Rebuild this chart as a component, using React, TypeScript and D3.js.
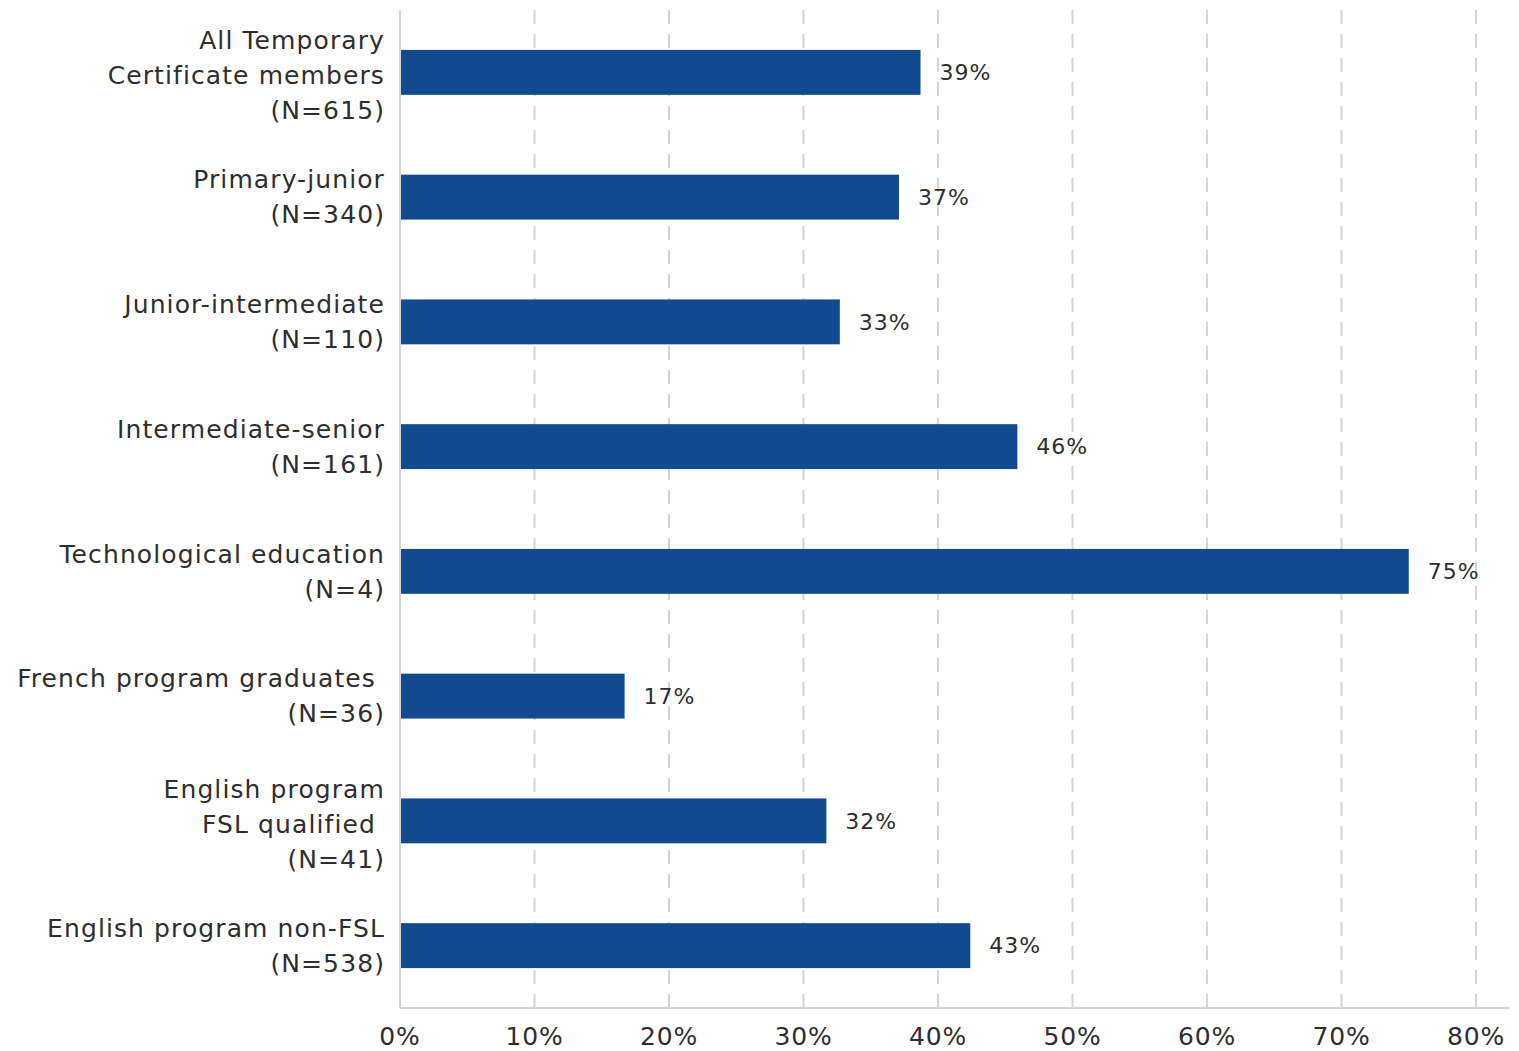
import React from "react";
import * as d3 from "d3";

const categories: string[][] = [
  ["All Temporary", "Certificate members", "(N=615)"],
  ["Primary-junior", "(N=340)"],
  ["Junior-intermediate", "(N=110)"],
  ["Intermediate-senior", "(N=161)"],
  ["Technological education", "(N=4)"],
  ["French program graduates ", "(N=36)"],
  ["English program", "FSL qualified ", "(N=41)"],
  ["English program non-FSL", "(N=538)"],
];
const values: number[] = [38.7, 37.1, 32.7, 45.9, 75.0, 16.7, 31.7, 42.4];
const valueLabels: string[] = ["39%", "37%", "33%", "46%", "75%", "17%", "32%", "43%"];
const ticks: number[] = [0, 10, 20, 30, 40, 50, 60, 70, 80];

const W = 1519;
const H = 1051;
const left = 392;
const top = 2;
const plotRight = 1468;
const plotBottom = 1000;
const axisExtend = 1502;

const FONT = "'DejaVu Sans', sans-serif";
const TEXT = "#2e2e2e";
const BAR = "#124A8F";
const GRID = "#d4d4d4";

export default function App() {
  const x = d3.scaleLinear().domain([0, 80]).range([left, plotRight]);
  const y = d3
    .scaleBand<number>()
    .domain(d3.range(categories.length))
    .range([top, plotBottom])
    .paddingInner(0.64)
    .paddingOuter(0.32);
  const lineH = 35;

  return (
    <svg width={W} height={H} style={{ display: "block", background: "#fff" }}>
      {ticks.slice(1).map((t) => (
        <line
          key={t}
          x1={x(t)}
          x2={x(t)}
          y1={top}
          y2={plotBottom}
          stroke={GRID}
          strokeWidth={2}
          strokeDasharray="14 10"
        />
      ))}
      <line x1={left} x2={left} y1={top} y2={plotBottom} stroke={GRID} strokeWidth={2} />
      <line x1={left} x2={axisExtend} y1={plotBottom} y2={plotBottom} stroke={GRID} strokeWidth={2} />
      {values.map((v, i) => {
        const yc = (y(i) as number) + y.bandwidth() / 2;
        return (
          <g key={i}>
            <rect x={x(0) + 1} y={y(i)} width={x(v) - x(0) - 1} height={y.bandwidth()} fill={BAR} />
            <text
              x={x(v) + 19}
              y={yc}
              dy="0.35em"
              fontFamily={FONT}
              fontSize={22}
              letterSpacing={1}
              fill={TEXT}
            >
              {valueLabels[i]}
            </text>
          </g>
        );
      })}
      {categories.map((lines, i) => {
        const yc = (y(i) as number) + y.bandwidth() / 2;
        const n = lines.length;
        return (
          <text
            key={i}
            textAnchor="end"
            fontFamily={FONT}
            fontSize={25}
            letterSpacing={1.1}
            fill={TEXT}
            style={{ whiteSpace: "pre" }}
          >
            {lines.map((l, j) => (
              <tspan key={j} x={left - 15} y={yc + (j - (n - 1) / 2) * lineH + (n === 3 ? 3 : 0)} dy="0.35em">
                {l}
              </tspan>
            ))}
          </text>
        );
      })}
      {ticks.map((t) => (
        <text
          key={t}
          x={x(t)}
          y={plotBottom + 28}
          dy="0.35em"
          textAnchor="middle"
          fontFamily={FONT}
          fontSize={25}
          letterSpacing={0.8}
          fill={TEXT}
        >
          {t}%
        </text>
      ))}
    </svg>
  );
}
